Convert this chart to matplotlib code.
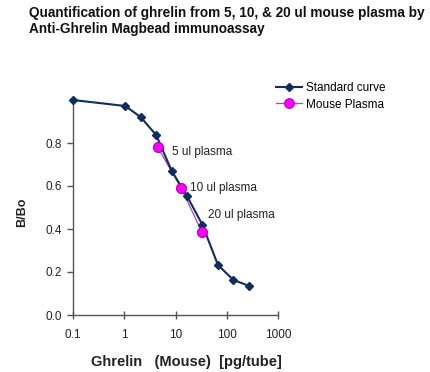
import matplotlib
matplotlib.use("Agg")
import matplotlib.pyplot as plt
from matplotlib.ticker import FixedLocator, FixedFormatter

plt.rcParams['font.family'] = ['Liberation Sans', 'DejaVu Sans']

std_x = [0.1, 1.05, 2.1, 4.2, 8.4, 16.8, 33.6, 67.2, 134.4, 268.8]
std_y = [1.0, 0.972, 0.92, 0.837, 0.671, 0.553, 0.419, 0.233, 0.163, 0.136]
plasma_x = [4.5, 12.8, 32.5]
plasma_y = [0.78, 0.592, 0.388]
plasma_labels = ["5 ul plasma", "10 ul plasma", "20 ul plasma"]
x_ticks = [0.1, 1, 10, 100, 1000]
x_ticklabels = ["0.1", "1", "10", "100", "1000"]
y_ticks = [0.0, 0.2, 0.4, 0.6, 0.8]
y_ticklabels = ["0.0", "0.2", "0.4", "0.6", "0.8"]

W, H = 430, 372
fig = plt.figure(figsize=(W / 100, H / 100), dpi=100)
ax = fig.add_axes([73 / W, 1 - 315 / H, (278 - 73) / W, (315 - 100) / H])

navy = '#0f2d5e'
mag = '#ff00ff'

ax.plot(plasma_x, plasma_y, color='#b040c0', lw=0.9, marker='o', ms=7,
        mfc=mag, mec='#c000c0', mew=0.8, label='Mouse Plasma', zorder=2)
ax.plot(std_x, std_y, color=navy, lw=1.5, marker='D', ms=4.5,
        mfc=navy, mec=navy, label='Standard curve', zorder=3, clip_on=False)
ax.plot(plasma_x, plasma_y, ls='none', marker='o', ms=7,
        mfc=mag, mec='#c000c0', mew=0.8, zorder=4)

offsets = [(10, -3.6), (6.5, 0), (4.3, 12)]
for x, y, t, (dx, dy) in zip(plasma_x, plasma_y, plasma_labels, offsets):
    ax.annotate(t, (x, y), xytext=(dx, dy), textcoords='offset points',
                fontsize=8.5, va='center', ha='left', color='#222222')

ax.set_xscale('log')
ax.set_xlim(0.1, 1000)
ax.set_ylim(0, 1.0)
ax.xaxis.set_major_locator(FixedLocator(x_ticks))
ax.xaxis.set_major_formatter(FixedFormatter(x_ticklabels))
ax.xaxis.set_minor_locator(FixedLocator([]))
ax.yaxis.set_major_locator(FixedLocator(y_ticks))
ax.yaxis.set_major_formatter(FixedFormatter(y_ticklabels))

for s in ['top', 'right']:
    ax.spines[s].set_visible(False)
for s in ['left', 'bottom']:
    ax.spines[s].set_color('#555555')
    ax.spines[s].set_linewidth(1.0)
ax.tick_params(axis='both', colors='#555555', labelcolor='#222222',
               labelsize=8.5, length=4, width=1.0)
ax.tick_params(axis='x', direction='inout', length=6, pad=7)
ax.tick_params(axis='y', pad=4)

ax.set_xlabel('Ghrelin   (Mouse)  [pg/tube]', fontsize=10.5, fontweight='bold',
              color='#222222')
ax.xaxis.set_label_coords((186 - 73) / (278 - 73), -(362 - 315) / (315 - 100))
ax.xaxis.label.set_va('center')
ax.set_ylabel('B/Bo', fontsize=9, fontweight='bold', color='#222222')
ax.yaxis.set_label_coords(-(73 - 22) / (278 - 73), (315 - 212) / (315 - 100))
ax.yaxis.label.set_va('center')

handles, labels = ax.get_legend_handles_labels()
leg = fig.legend(handles[::-1], labels[::-1], loc='upper left',
                 bbox_to_anchor=(270 / W, 1 - 76 / H), frameon=False,
                 fontsize=8.5, handlelength=2.2, handletextpad=0.35,
                 labelspacing=0.4, borderpad=0)

fig.text(29 / W, 1 - 13 / H,
         'Quantification of ghrelin from 5, 10, & 20 ul mouse plasma by',
         fontsize=9.8, fontweight='bold', va='center', ha='left', color='#111111')
fig.text(29 / W, 1 - 29.5 / H, 'Anti-Ghrelin Magbead immunoassay',
         fontsize=9.8, fontweight='bold', va='center', ha='left', color='#111111')

fig.savefig('out.png', dpi=100)
